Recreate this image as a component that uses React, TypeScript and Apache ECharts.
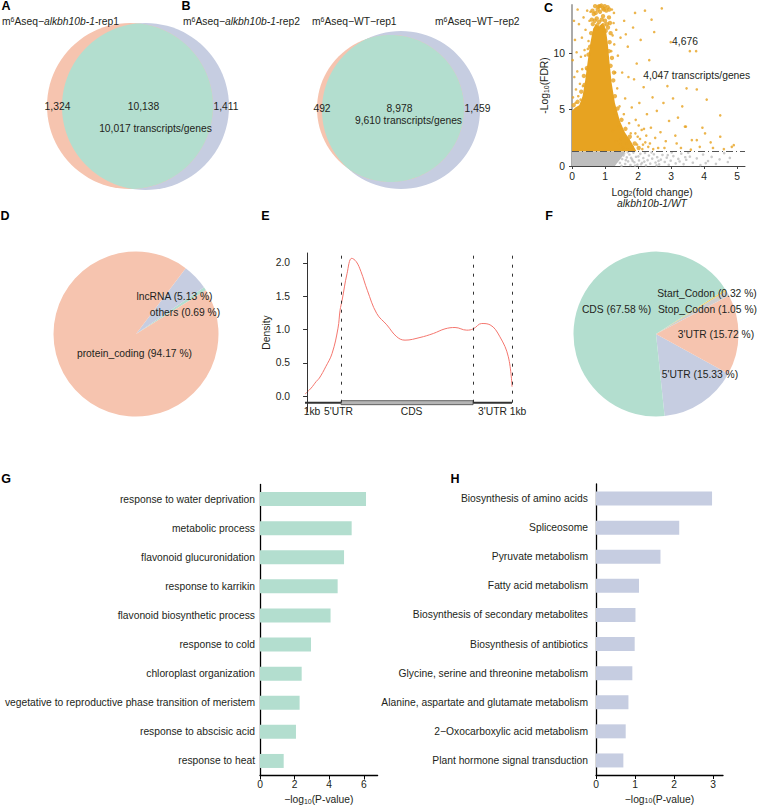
import React, { useEffect, useRef } from "react";
import * as echarts from "echarts";

const FONT = '"Liberation Sans", Arial, Helvetica, sans-serif';
const TXT = "#231f20";
const FS = 10.3;
const ORANGE = "#F6C4AF";
const BLUE = "#C6CDE1";
const GREEN = "#B3DECF";
const SIG = "#E7A321";
const NS = "#BEBEBE";

// ---------- A / B : Venn ----------
const vennATitles = ["rep1", "rep2"];
const vennACounts = [1324, 10138, 1411]; // left only, shared, right only
const vennATranscripts = 10017;
const vennBTitles = ["WT\u2212rep1", "WT\u2212rep2"];
const vennBCounts = [492, 8978, 1459];
const vennBTranscripts = 9610;

// ---------- C : volcano-like scatter ----------
const volcanoXTicks = [0, 1, 2, 3, 4, 5];
const volcanoYTicks = [0, 5, 10];
const fdrThreshold = 1.3;
const sigPeaks = 4676;
const sigGenes = 4047;
const sigDense = [
  [0, 1.3], [0, 4.9], [0.1, 5.2], [0.22, 5.4], [0.32, 6.2], [0.4, 7.6], [0.48, 9.4], [0.56, 11],
  [0.64, 12.2], [0.72, 12.6], [0.82, 12.4], [0.92, 12.7], [1.02, 12.2], [1.08, 11], [1.13, 9.4],
  [1.2, 7.4], [1.3, 5.6], [1.45, 4], [1.6, 3], [1.8, 2.1], [1.95, 1.3],
];
const sigCore = [
  [0.63, 12.6], [0.73, 12.2], [0.82, 12.8], [0.91, 12.4], [1.0, 12.9], [1.09, 12.3],
  [0.66, 13.5], [0.75, 13.1], [0.85, 13.7], [0.94, 13.3], [1.04, 13.8], [1.12, 13.2],
  [0.7, 14.2], [0.8, 14.15], [0.89, 14.25], [0.99, 14.2], [1.08, 14.1],
  [0.69, 12.9], [0.87, 12.1], [1.02, 12.0], [0.78, 13.9], [0.97, 13.9], [0.6, 13.0], [1.15, 12.7],
  [0.72, 13.6], [0.9, 13.0], [1.06, 12.6], [0.84, 14.2], [0.94, 14.0], [0.62, 13.8], [1.13, 13.9],
  [0.77, 12.5], [0.96, 12.5], [1.17, 11.8], [1.14, 11.0], [1.12, 10.2], [0.58, 11.8], [0.55, 10.6],
  [0.5, 9.9], [0.45, 8.7], [0.38, 7.2], [0.05, 5.4], [0.17, 5.7], [0.28, 6.6], [0.36, 8.0],
  [1.17, 8.9], [1.25, 7.6], [1.3, 6.2], [1.38, 5.1], [1.5, 4.1], [1.62, 3.3], [1.75, 2.6], [1.9, 2.0],
  [2.02, 1.6], [1.21, 9.6], [1.27, 8.3],
];
const sigPoints = [
  [1.24, 3.1], [1.33, 2.2], [1.29, 4.7], [1.41, 3.5], [1.37, 6.9], [1.48, 2.4], [1.44, 5.3], [1.57, 4.6],
  [1.52, 8.3], [1.66, 2.0], [1.61, 6.0], [1.73, 3.8], [1.69, 10.6], [1.81, 5.2], [1.78, 2.9], [1.88, 7.7],
  [1.93, 4.1], [1.85, 12.3], [1.99, 2.6], [1.96, 9.1], [1.58, 12.9], [1.47, 11.4], [1.39, 9.8], [1.34, 12.1],
  [1.27, 13.6], [1.71, 7.9], [1.63, 11.7], [1.91, 13.6],
  [2.04, 5.6], [2.11, 3.2], [2.08, 11.2], [2.17, 7.0], [2.22, 2.1], [2.27, 4.6], [2.21, 13.8], [2.34, 9.4],
  [2.39, 3.4], [2.44, 6.1], [2.31, 1.7], [2.52, 2.5], [2.57, 4.9], [2.49, 11.9], [2.63, 8.0], [2.68, 3.0],
  [2.72, 14.0], [2.77, 5.6], [2.84, 2.2], [2.89, 7.1], [2.94, 4.0], [2.99, 11.0], [2.61, 1.6], [2.41, 13.0],
  [2.15, 1.9], [2.8, 1.6],
  [3.06, 6.0], [3.13, 2.7], [3.21, 4.3], [3.34, 5.3], [3.45, 3.5], [3.47, 6.9], [3.57, 10.2], [3.63, 2.3],
  [3.76, 10.2], [3.78, 6.8], [3.87, 1.7], [4.03, 2.9], [4.08, 5.9], [4.27, 1.6], [4.49, 4.5], [4.49, 2.6],
  [4.84, 1.7], [4.9, 1.85], [3.17, 2.0], [3.42, 3.5], [3.78, 2.3], [3.95, 3.4], [4.2, 2.1], [3.3, 1.6],
  [3.6, 1.45], [4.6, 1.5],
  [0.03, 6.1], [0.07, 7.9], [0.02, 9.4], [0.12, 6.8], [0.09, 11.2], [0.16, 8.4], [0.19, 6.2], [0.14, 10.1],
  [0.24, 7.3], [0.21, 12.6], [0.27, 9.7], [0.3, 11.4], [0.33, 7.1], [0.35, 13.2], [0.38, 10.3], [0.41, 12.1],
  [0.44, 8.6], [0.46, 13.8], [0.5, 11.1], [0.53, 12.9], [0.26, 5.9], [0.06, 12.9], [0.17, 13.9], [0.31, 8.6],
  [0.11, 5.6], [0.4, 9.8], [0.48, 10.4], [0.56, 13.7],
  [1.19, 10.2], [1.23, 11.6], [1.21, 13.9], [1.28, 10.8], [1.31, 8.3], [1.26, 12.7],
  [1.55, 1.6], [1.68, 1.45], [1.72, 2.3], [1.84, 1.7], [1.97, 1.9], [2.06, 2.4], [2.13, 1.5], [2.25, 2.7],
  [2.36, 2.0], [2.46, 1.5], [1.46, 1.9], [1.92, 2.9], [2.02, 3.6], [2.18, 3.3],
];
const nsDense = [[0, 0], [0, 1.28], [1.6, 1.28], [1.55, 0.95], [1.45, 0.55], [1.35, 0.2], [1.3, 0]];
const nsPoints = [
  [1.52, 0.62], [1.58, 1.12], [1.61, 0.18], [1.66, 0.77], [1.7, 0.41], [1.74, 1.02], [1.77, 0.09], [1.82, 0.58],
  [1.86, 1.19], [1.89, 0.33], [1.94, 0.82], [1.98, 0.12], [2.03, 0.49], [2.07, 1.08], [2.12, 0.27], [2.16, 0.71],
  [2.21, 1.16], [2.24, 0.06], [2.29, 0.52], [2.33, 0.93], [2.37, 0.21], [2.43, 0.66], [2.48, 1.04], [2.53, 0.31],
  [2.58, 0.78], [2.64, 0.14], [2.69, 0.57], [2.74, 0.98], [2.81, 0.36], [2.87, 0.74], [2.93, 0.11], [2.99, 0.47],
  [3.07, 0.88], [3.14, 0.23], [3.22, 0.63], [3.31, 1.09], [3.38, 0.17], [3.46, 0.55], [3.57, 0.83], [3.66, 0.29],
  [3.78, 0.68], [3.89, 0.08], [3.97, 1.02], [4.12, 0.44], [4.23, 0.81], [4.36, 0.19], [4.47, 0.59], [4.61, 1.14],
  [4.72, 0.35], [4.78, 0.72], [1.45, 0.28], [1.56, 0.94], [1.63, 0.52], [1.79, 0.72], [1.91, 0.04], [2.01, 0.86],
  [2.19, 0.39], [2.41, 1.2], [2.62, 0.45], [2.9, 0.97], [3.26, 0.4], [3.52, 1.18], [4.05, 0.26], [1.5, 0.02],
  [1.69, 1.22], [1.84, 0.44], [2.09, 0.15], [2.56, 0.05], [3.02, 1.2], [3.43, 0.78],
];

// ---------- D : RNA type pie ----------
const rnaTypes = ["others", "lncRNA", "protein_coding"];
const rnaPct = [0.69, 5.13, 94.17];

// ---------- E : metagene density ----------
const densityPos = [-1.0, 2.0, 4.5, 6.0, 9.1, 12.2, 15.1, 16.1, 17.1, 19.5, 21.8, 24.0, 26.3, 29.4, 34.0, 38.9,
  43.8, 47.8, 55.1, 61.6, 67.3, 72.2, 77.9, 81.1, 85.2, 89.3, 94.1, 98.2, 100];
const densityVal = [0.03, 0.12, 0.22, 0.27, 0.44, 0.64, 1.02, 1.29, 1.44, 1.84, 2.07, 2.02, 1.87, 1.59, 1.24, 1.07,
  0.89, 0.84, 0.88, 0.94, 1.01, 1.03, 0.99, 1.01, 1.09, 1.07, 0.89, 0.59, 0.14];
const densityTicks = [0, 0.5, 1, 1.5, 2];
const regionBounds = [0, 16.6, 81, 100];
const geneSegments = [[-1, 16.6], [16.6, 81], [81, 100]];
const geneKinds = ["UTR", "CDS", "UTR"];
const regionLabels = ["1kb", "5'UTR", "CDS", "3'UTR", "1kb"];
const regionLabelPos = [2.4, 15.3, 51, 90.5, 102.9];

// ---------- F : feature pie ----------
const featureNames = ["5'UTR", "3'UTR", "Stop_Codon", "Start_Codon", "CDS"];
const featurePct = [15.33, 15.72, 1.05, 0.32, 67.58];

// ---------- G : GO ----------
const goTerms = [
  "response to water deprivation", "metabolic process", "flavonoid glucuronidation", "response to karrikin",
  "flavonoid biosynthetic process", "response to cold", "chloroplast organization",
  "vegetative to reproductive phase transition of meristem", "response to abscisic acid", "response to heat",
];
const goValues = [6.13, 5.3, 4.86, 4.49, 4.08, 2.95, 2.41, 2.29, 2.08, 1.37];
const goTicks = [0, 2, 4, 6];

// ---------- H : KEGG ----------
const keggTerms = [
  "Biosynthesis of amino acids", "Spliceosome", "Pyruvate metabolism", "Fatty acid metabolism",
  "Biosynthesis of secondary metabolites", "Biosynthesis of antibiotics",
  "Glycine, serine and threonine metabolism", "Alanine, aspartate and glutamate metabolism",
  "2\u2212Oxocarboxylic acid metabolism", "Plant hormone signal transduction",
];
const keggValues = [2.97, 2.13, 1.65, 1.1, 1.01, 0.99, 0.93, 0.83, 0.76, 0.7];
const keggTicks = [0, 1, 2, 3];

// ---------- helpers ----------
const fmt = (n: number) => n.toLocaleString("en-US");

function lens(c1: number[], r1: number, c2: number[], r2: number) {
  const pts: number[][] = [];
  const N = 720;
  for (let k = 0; k < N; k++) {
    const a = (k / N) * Math.PI * 2;
    const p = [c1[0] + r1 * Math.cos(a), c1[1] + r1 * Math.sin(a)];
    if (Math.hypot(p[0] - c2[0], p[1] - c2[1]) <= r2) pts.push(p);
    const q = [c2[0] + r2 * Math.cos(a), c2[1] + r2 * Math.sin(a)];
    if (Math.hypot(q[0] - c1[0], q[1] - c1[1]) <= r1) pts.push(q);
  }
  let cx = 0, cy = 0;
  pts.forEach((p) => { cx += p[0]; cy += p[1]; });
  cx /= pts.length; cy /= pts.length;
  pts.sort((u, v) => Math.atan2(u[1] - cy, u[0] - cx) - Math.atan2(v[1] - cy, v[0] - cx));
  return pts;
}

const richZ: any = {
  n: { fontSize: FS, fontFamily: FONT, fill: TXT },
  i: { fontSize: FS, fontFamily: FONT, fill: TXT, fontStyle: "italic" },
  s: { fontSize: 7, fontFamily: FONT, fill: TXT, verticalAlign: "top", lineHeight: 6 },
  b: { fontSize: 7, fontFamily: FONT, fill: TXT, verticalAlign: "bottom", lineHeight: 6 },
};
const richE: any = {
  n: { fontSize: FS, fontFamily: FONT, color: TXT },
  b: { fontSize: 7, fontFamily: FONT, color: TXT, verticalAlign: "bottom", lineHeight: 6 },
};

function txt(text: string, x: number, y: number, align = "center", extra: any = {}) {
  return {
    type: "text", x, y, z: 100, silent: true,
    style: { text, fontSize: FS, fontFamily: FONT, fill: TXT, align, verticalAlign: "middle", ...extra },
  };
}
function richTxt(text: string, x: number, y: number, align = "left") {
  return {
    type: "text", x, y, z: 100, silent: true,
    style: { text, rich: richZ, fontSize: FS, fontFamily: FONT, fill: TXT, align, verticalAlign: "middle" },
  };
}
function letter(t: string, x: number, y: number) {
  return txt(t, x, y, "center", { fontSize: 12.5, fontWeight: "bold", fill: "#000" });
}

function venn(geo: any, counts: number[], total: number, pos: any) {
  const lensPts = lens(geo.c1, geo.r1, geo.c2, geo.r2);
  return [
    { type: "circle", shape: { cx: geo.c2[0], cy: geo.c2[1], r: geo.r2 }, style: { fill: BLUE }, silent: true },
    { type: "circle", shape: { cx: geo.c1[0], cy: geo.c1[1], r: geo.r1 }, style: { fill: ORANGE }, silent: true },
    { type: "polygon", shape: { points: lensPts }, style: { fill: GREEN }, silent: true },
    txt(fmt(counts[0]), pos.left[0], pos.left[1]),
    txt(fmt(counts[1]), pos.mid[0], pos.mid[1]),
    txt(fmt(counts[2]), pos.right[0], pos.right[1]),
    txt(`${fmt(total)} transcripts/genes`, pos.total[0], pos.total[1]),
  ];
}

function polyRender(pts: number[][], color: string) {
  return (params: any, api: any) => {
    if (params.dataIndex !== 0) return null;
    return { type: "polygon", shape: { points: pts.map((p) => api.coord(p)) }, style: { fill: color } };
  };
}

function buildOption() {
  const geoA = { c1: [130, 106], r1: 83, c2: [145.5, 106.5], r2: 83.5 };
  const geoB = { c1: [390.5, 108.5], r1: 73.5, c2: [401, 110], r2: 79 };

  const graphic: any[] = [
    letter("A", 6, 5.5), letter("B", 186, 5.5), letter("C", 548.5, 7.5),
    letter("D", 5, 216), letter("E", 265.5, 215.7), letter("F", 549, 215.7),
    letter("G", 6, 479), letter("H", 455, 479),
    ...venn(geoA, vennACounts, vennATranscripts,
      { left: [57.5, 106], mid: [143.5, 106], right: [226, 106], total: [155.5, 128] }),
    ...venn(geoB, vennBCounts, vennBTranscripts,
      { left: [322, 108], mid: [399.5, 108], right: [477.5, 108], total: [408.5, 120] }),
    richTxt(`{n|m}{s|6}{n|Aseq\u2212}{i|alkbh10b-1}{n|-${vennATitles[0]}}`, 2, 21),
    richTxt(`{n|m}{s|6}{n|Aseq\u2212}{i|alkbh10b-1}{n|-${vennATitles[1]}}`, 183, 21),
    richTxt(`{n|m}{s|6}{n|Aseq\u2212${vennBTitles[0]}}`, 312, 21),
    richTxt(`{n|m}{s|6}{n|Aseq\u2212${vennBTitles[1]}}`, 435, 21),
    // C annotations
    txt(fmt(sigPeaks), 685, 41.7),
    txt(`${fmt(sigGenes)} transcripts/genes`, 696.7, 75),
    richTxt("{n|Log}{b|2}{n|(fold change)}", 652, 192, "center"),
    txt("alkbh10b-1/WT", 652, 203.5, "center", { fontStyle: "italic" }),
    // D labels
    txt(`${rnaTypes[1]} (${rnaPct[1].toFixed(2)} %)`, 174.5, 296.7),
    txt(`${rnaTypes[0]} (${rnaPct[0].toFixed(2)} %)`, 185, 312),
    txt(`${rnaTypes[2]} (${rnaPct[2].toFixed(2)} %)`, 134.5, 353.3),
    // F labels
    txt(`${featureNames[3]} (${featurePct[3].toFixed(2)} %)`, 707, 293),
    txt(`${featureNames[2]} (${featurePct[2].toFixed(2)} %)`, 707.5, 309),
    txt(`${featureNames[4]} (${featurePct[4].toFixed(2)} %)`, 616.5, 309),
    txt(`${featureNames[1]} (${featurePct[1].toFixed(2)} %)`, 716, 334),
    txt(`${featureNames[0]} (${featurePct[0].toFixed(2)} %)`, 700, 374),
  ];

  const axisLbl = { fontSize: FS, fontFamily: FONT, color: TXT };
  const pLabelName = "{n|\u2212log}{b|10}{n|(P-value)}";

  return {
    animation: false,
    backgroundColor: "#ffffff",
    textStyle: { fontFamily: FONT },
    graphic,
    grid: [
      { left: 572, top: 5, width: 173, height: 161, outerBoundsMode: "none" },
      { left: 296, top: 253, width: 223.6, height: 159, outerBoundsMode: "none" },
      { left: 260, top: 484.5, width: 117.6, height: 291, outerBoundsMode: "none" },
      { left: 596, top: 484, width: 127, height: 291, outerBoundsMode: "none" },
    ],
    xAxis: [
      {
        gridIndex: 0, type: "value", min: 0, max: 5.24,
        axisLine: { show: true, lineStyle: { color: "#444", width: 1 } },
        axisTick: { show: true, customValues: volcanoXTicks, length: 3, lineStyle: { color: "#444" } },
        axisLabel: { ...axisLbl, customValues: volcanoXTicks, margin: 5 },
        splitLine: { show: false },
      },
      { gridIndex: 1, type: "value", min: -5.4, max: 103.7, show: false, splitLine: { show: false } },
      {
        gridIndex: 2, type: "value", min: 0, max: 6.8,
        axisLine: { show: true, lineStyle: { color: "#000", width: 1.3 } },
        axisTick: { show: true, customValues: goTicks, length: 4, lineStyle: { color: "#000" } },
        axisLabel: { ...axisLbl, customValues: goTicks, margin: 4 },
        splitLine: { show: false },
        name: pLabelName, nameLocation: "middle", nameGap: 19,
        nameTextStyle: { rich: richE, fontSize: FS, color: TXT },
      },
      {
        gridIndex: 3, type: "value", min: 0, max: 3.25,
        axisLine: { show: true, lineStyle: { color: "#000", width: 1.3 } },
        axisTick: { show: true, customValues: keggTicks, length: 4, lineStyle: { color: "#000" } },
        axisLabel: { ...axisLbl, customValues: keggTicks, margin: 4 },
        splitLine: { show: false },
        name: pLabelName, nameLocation: "middle", nameGap: 19,
        nameTextStyle: { rich: richE, fontSize: FS, color: TXT },
      },
    ],
    yAxis: [
      {
        gridIndex: 0, type: "value", min: 0, max: 14.3,
        axisLine: { show: true, lineStyle: { color: "#aaaaaa", width: 2 } },
        axisTick: { show: true, customValues: volcanoYTicks, length: 3, lineStyle: { color: "#444" } },
        axisLabel: { ...axisLbl, customValues: volcanoYTicks, margin: 7 },
        splitLine: { show: false },
        name: "{n|-Log}{b|10}{n|(FDR)}", nameLocation: "middle", nameGap: 16,
        nameTextStyle: { rich: richE, fontSize: FS, color: TXT },
      },
      {
        gridIndex: 1, type: "value", min: -0.24, max: 2.15,
        axisLine: { show: true, lineStyle: { color: "#333", width: 1 } },
        axisTick: { show: true, customValues: densityTicks, length: 4, lineStyle: { color: "#333" } },
        axisLabel: { ...axisLbl, customValues: densityTicks, margin: 6, formatter: (v: number) => v.toFixed(1) },
        splitLine: { show: false },
        name: "Density", nameLocation: "middle", nameGap: 19,
        nameTextStyle: { fontSize: FS, color: TXT, fontFamily: FONT },
      },
      {
        gridIndex: 2, type: "category", inverse: true, data: goTerms,
        axisLine: { show: true, lineStyle: { color: "#000", width: 1.3 } },
        axisTick: { show: false },
        axisLabel: { ...axisLbl, margin: 5 },
      },
      {
        gridIndex: 3, type: "category", inverse: true, data: keggTerms,
        axisLine: { show: true, lineStyle: { color: "#000", width: 1.3 } },
        axisTick: { show: false },
        axisLabel: { ...axisLbl, margin: 8 },
      },
    ],
    series: [
      {
        type: "custom", xAxisIndex: 0, yAxisIndex: 0, data: nsDense, silent: true, clip: true,
        renderItem: polyRender(nsDense, NS),
      },
      {
        type: "custom", xAxisIndex: 0, yAxisIndex: 0, data: sigDense, silent: true, clip: true,
        renderItem: polyRender(sigDense, SIG),
      },
      {
        type: "scatter", xAxisIndex: 0, yAxisIndex: 0, data: nsPoints, symbolSize: 2.6, silent: true,
        itemStyle: { color: NS },
      },
      {
        type: "scatter", xAxisIndex: 0, yAxisIndex: 0, data: sigCore, symbolSize: 4.4, silent: true,
        itemStyle: { color: SIG },
      },
      {
        type: "scatter", xAxisIndex: 0, yAxisIndex: 0, data: sigPoints, symbolSize: 2.6, silent: true,
        itemStyle: { color: SIG },
        markLine: {
          silent: true, symbol: ["none", "none"], label: { show: false },
          lineStyle: { color: "#555", type: [7, 3, 1, 3], width: 1 },
          data: [{ yAxis: fdrThreshold }],
        },
      },
      {
        type: "line", xAxisIndex: 1, yAxisIndex: 1, silent: true, smooth: 0.4, symbol: "none",
        data: densityPos.map((x, i) => [x, densityVal[i]]),
        lineStyle: { color: "#F4766E", width: 1 },
        markLine: {
          silent: true, symbol: ["none", "none"], label: { show: false },
          lineStyle: { color: "#333", type: [3, 6], width: 1 },
          data: regionBounds.map((v) => [{ coord: [v, -0.1] }, { coord: [v, 2.15] }]),
        },
      },
      {
        type: "custom", xAxisIndex: 1, yAxisIndex: 1, data: geneSegments, silent: true,
        renderItem: (params: any, api: any) => {
          const s = api.coord([api.value(0), -0.1]);
          const e = api.coord([api.value(1), -0.1]);
          if (geneKinds[params.dataIndex] === "CDS") {
            return {
              type: "rect", shape: { x: s[0], y: s[1] - 2, width: e[0] - s[0], height: 4 },
              style: { fill: "#b5b5b5", stroke: "#444", lineWidth: 0.8 },
            };
          }
          return { type: "line", shape: { x1: s[0], y1: s[1], x2: e[0], y2: e[1] }, style: { stroke: "#333", lineWidth: 2 } };
        },
      },
      {
        type: "custom", xAxisIndex: 1, yAxisIndex: 1, silent: true, clip: false,
        data: regionLabelPos.map((p) => [p, -0.1]),
        renderItem: (params: any, api: any) => {
          const c = api.coord([api.value(0), api.value(1)]);
          return {
            type: "text", x: c[0], y: c[1] + 8.5,
            style: { text: regionLabels[params.dataIndex], fontSize: FS, fontFamily: FONT, fill: TXT, align: "center", verticalAlign: "middle" },
          };
        },
      },
      {
        type: "pie", center: [136, 334], radius: 82.5, startAngle: 32, clockwise: false, silent: true,
        label: { show: false }, labelLine: { show: false },
        data: rnaTypes.map((n, i) => ({ name: n, value: rnaPct[i], itemStyle: { color: [GREEN, BLUE, ORANGE][i] } })),
      },
      {
        type: "pie", center: [656, 334], radius: 82.5, startAngle: -84, clockwise: false, silent: true,
        label: { show: false }, labelLine: { show: false },
        data: featureNames.map((n, i) => ({
          name: n, value: featurePct[i],
          itemStyle: { color: [BLUE, ORANGE, "#CFCFCF", "#EFD26A", GREEN][i] },
        })),
      },
      {
        type: "bar", xAxisIndex: 2, yAxisIndex: 2, data: goValues, barWidth: 14, silent: true,
        itemStyle: { color: GREEN },
      },
      {
        type: "bar", xAxisIndex: 3, yAxisIndex: 3, data: keggValues, barWidth: 14, silent: true,
        itemStyle: { color: BLUE },
      },
    ],
  };
}

export default function App() {
  const ref = useRef<HTMLDivElement>(null);
  useEffect(() => {
    document.body.style.margin = "0";
    const chart = echarts.init(ref.current as HTMLDivElement, null, { renderer: "svg", width: 758, height: 809 });
    chart.setOption(buildOption() as any);
    return () => chart.dispose();
  }, []);
  return (
    <div
      ref={ref}
      style={{ position: "absolute", left: 0, top: 0, width: 758, height: 809, background: "#fff" }}
    />
  );
}
